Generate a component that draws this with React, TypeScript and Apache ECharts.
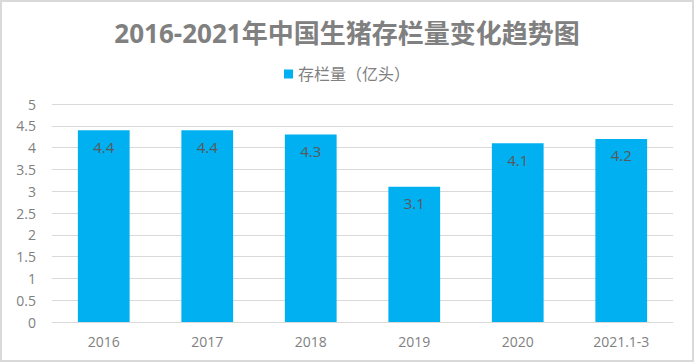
import React, { useEffect, useRef } from "react";
import * as echarts from "echarts";

const title = "2016-2021年中国生猪存栏量变化趋势图";
const seriesName = "存栏量（亿头）";
const categories = ["2016", "2017", "2018", "2019", "2020", "2021.1-3"];
const values = [4.4, 4.4, 4.3, 3.1, 4.1, 4.2];

export default function App() {
  const ref = useRef<HTMLDivElement>(null);
  useEffect(() => {
    if (!ref.current) return;
    const chart = echarts.init(ref.current, null, { renderer: "svg" });
    const font = '"Open Sans", "Noto Sans CJK SC", sans-serif';
    chart.setOption({
      animation: false,
      backgroundColor: "#ffffff",
      graphic: [
        {
          type: "rect",
          shape: { x: 1, y: 1, width: 692, height: 360 },
          style: { fill: "none", stroke: "#d9d9d9", lineWidth: 2 },
          silent: true,
        },
      ],
      title: {
        text: title,
        left: "center",
        top: 15,
        textStyle: {
          fontFamily: font,
          fontSize: 26,
          fontWeight: "bold",
          color: "#808080",
        },
      },
      legend: {
        data: [seriesName],
        top: 61,
        left: "center",
        icon: "rect",
        itemWidth: 9,
        itemHeight: 9,
        itemGap: 6,
        textStyle: { fontFamily: font, fontSize: 16, color: "#808080" },
      },
      grid: { left: 52, right: 21, top: 104, bottom: 40 },
      xAxis: {
        type: "category",
        data: categories,
        axisLine: { show: true, lineStyle: { color: "#d9d9d9", width: 1 } },
        axisTick: { show: false },
        axisLabel: { color: "#808080", fontFamily: font, fontSize: 14, margin: 12 },
      },
      yAxis: {
        type: "value",
        min: 0,
        max: 5,
        interval: 0.5,
        axisLine: { show: false },
        axisTick: { show: false },
        splitLine: { lineStyle: { color: "#d9d9d9", width: 1 } },
        axisLabel: { color: "#808080", fontFamily: font, fontSize: 14, margin: 16 },
      },
      series: [
        {
          name: seriesName,
          type: "bar",
          data: values,
          barWidth: "50%",
          itemStyle: { color: "#00b0f0" },
          label: {
            show: true,
            position: "insideTop",
            distance: 9,
            color: "#595959",
            fontFamily: font,
            fontSize: 15,
          },
        },
      ],
    });
    return () => chart.dispose();
  }, []);
  return (
    <div
      ref={ref}
      style={{ position: "fixed", left: 0, top: 0, width: 694, height: 362 }}
    />
  );
}
